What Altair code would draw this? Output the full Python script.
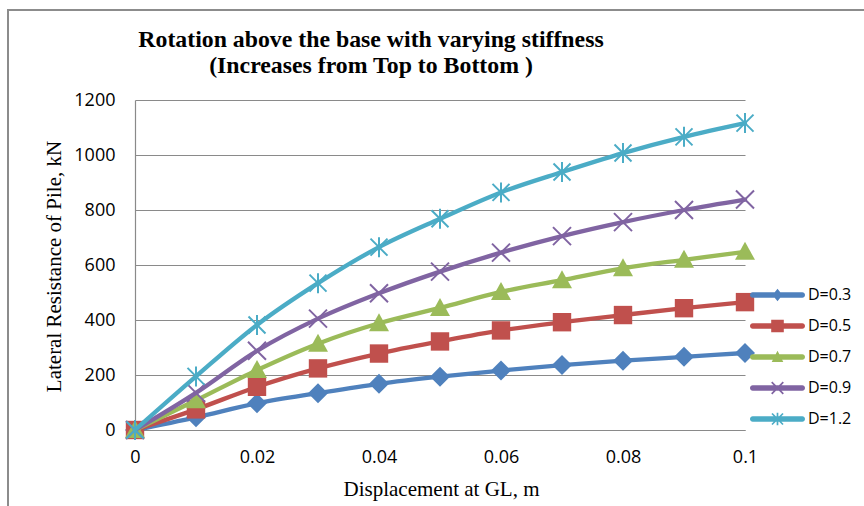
import math
import altair as alt
import pandas as pd

# ---------------- data ----------------
displacement = [0.0, 0.01, 0.02, 0.03, 0.04, 0.05, 0.06, 0.07, 0.08, 0.09, 0.1]
series_names = ["D=0.3", "D=0.5", "D=0.7", "D=0.9", "D=1.2"]
res_d03 = [0, 46, 97, 134, 168, 194, 216, 236, 252, 266, 280]
res_d05 = [0, 75, 157, 224, 278, 322, 362, 392, 418, 443, 465]
res_d07 = [0, 108, 218, 314, 388, 444, 502, 545, 588, 619, 648]
res_d09 = [0, 135, 288, 405, 497, 576, 645, 705, 756, 800, 838]
res_d12 = [0, 195, 382, 534, 665, 768, 864, 938, 1007, 1066, 1116]
series_values = [res_d03, res_d05, res_d07, res_d09, res_d12]
series_colors = ["#4F81BD", "#C0504D", "#9BBB59", "#8064A2", "#4BACC6"]
x_ticks = [0, 0.02, 0.04, 0.06, 0.08, 0.1]
y_ticks = [0, 200, 400, 600, 800, 1000, 1200]

title_lines = ["Rotation above the base with varying stiffness",
               "(Increases from Top to Bottom )"]
x_title = "Displacement at GL, m"
y_title = "Lateral Resistance of Pile, kN"

rows = []
for name, vals in zip(series_names, series_values):
    for d, v in zip(displacement, vals):
        rows.append({"disp": d, "res": v, "D": name})
df = pd.DataFrame(rows)


# ---------------- marker shapes (SVG paths, unit coords) ----------------
def poly(pts):
    n = len(pts)
    area = sum(pts[i][0] * pts[(i + 1) % n][1] - pts[(i + 1) % n][0] * pts[i][1]
               for i in range(n))
    if area > 0:
        pts = pts[::-1]
    return "M" + "L".join(f"{x:.4f},{y:.4f}" for x, y in pts) + "Z"


def bar(x1, y1, x2, y2, h):
    dx, dy = x2 - x1, y2 - y1
    L = math.hypot(dx, dy)
    nx, ny = -dy / L * h, dx / L * h
    return poly([(x1 + nx, y1 + ny), (x2 + nx, y2 + ny),
                 (x2 - nx, y2 - ny), (x1 - nx, y1 - ny)])


def stadium(half_len, h, steps=8):
    cx = half_len - h
    pts = []
    for k in range(steps + 1):
        a = -math.pi / 2 + math.pi * k / steps
        pts.append((cx + h * math.cos(a), h * math.sin(a)))
    for k in range(steps + 1):
        a = math.pi / 2 + math.pi * k / steps
        pts.append((-cx + h * math.cos(a), h * math.sin(a)))
    return poly(pts)


def diamond(w, h):
    return poly([(0, -h), (w, 0), (0, h), (-w, 0)])


def square(s):
    return poly([(-s, -s), (s, -s), (s, s), (-s, s)])


def triangle(w, top, bottom):
    return poly([(0, -top), (w, bottom), (-w, bottom)])


def xmark(s, t):
    return bar(-s, -s, s, s, t) + bar(-s, s, s, -s, t)


def star(s, v, t):
    return xmark(s, t) + bar(0, -v, 0, v, t)


# plot markers: unit = 10 px (size 400)
plot_markers = [
    diamond(1.0, 1.0),
    square(0.92),
    triangle(1.0, 1.0, 0.8),
    xmark(0.9, 0.1),
    star(0.85, 1.0, 0.1),
]
# legend symbols: unit = 23 px (size 2116), line + small marker
LU = 23.0
leg_line = stadium(27.5 / LU, 2.7 / LU)
legend_markers = [
    leg_line + diamond(4.95 / LU, 6.3 / LU),
    leg_line + square(6.3 / LU),
    leg_line + triangle(5.8 / LU, 6.3 / LU, 4.95 / LU),
    leg_line + xmark(5.8 / LU, 0.85 / LU),
    leg_line + star(5.5 / LU, 6.3 / LU, 0.85 / LU),
]

# ---------------- encodings ----------------
axis_gray = "#8a8a8a"
x_enc = alt.X(
    "disp:Q",
    scale=alt.Scale(domain=[0, 0.1], nice=False, zero=False),
    axis=alt.Axis(
        values=x_ticks, format=".2~f", grid=False, ticks=False,
        domainColor=axis_gray, domainWidth=1.2,
        labelFont="Open Sans", labelFontSize=18, labelColor="black",
        labelPadding=18, labelFlush=False,
        titleFont="Liberation Serif", titleFontSize=21, titleFontWeight="normal",
        titleColor="black", titleBaseline="alphabetic", titleY=65, titleX=306,
        titleAlign="center",
    ),
    title=x_title,
)
y_enc = alt.Y(
    "res:Q",
    scale=alt.Scale(domain=[0, 1200], nice=False),
    axis=alt.Axis(
        values=y_ticks, format="d", grid=True, gridColor=axis_gray, gridWidth=1.2,
        ticks=False, domainColor=axis_gray, domainWidth=1.2,
        labelFont="Open Sans", labelFontSize=18, labelColor="black",
        labelPadding=20, labelFlush=False,
        titleFont="Liberation Serif", titleFontSize=21, titleFontWeight="normal",
        titleColor="black", titleBaseline="alphabetic", titleX=-75, titleY=166,
        titleAngle=-90, titleAlign="center",
    ),
    title=y_title,
)
color_scale = alt.Scale(domain=series_names, range=series_colors)

base = alt.Chart(df)

border = alt.Chart(pd.DataFrame({"a": [0]})).mark_rect(
    filled=False, stroke="#8c8c8c", strokeWidth=2
).encode(
    x=alt.value(-127), x2=alt.value(780), y=alt.value(-90), y2=alt.value(460)
)

legend_def = alt.Legend(
    title=None, orient="none", legendX=619.5, legendY=172, padding=0,
    labelFont="Open Sans", labelFontSize=16, labelColor="black",
    symbolSize=2116, symbolStrokeWidth=0, symbolOpacity=1, labelOffset=7.5,
    rowPadding=0, symbolOffset=0,
)
# invisible layer that only supplies the legend (line + marker symbols)
legend_layer = base.mark_point(
    filled=True, opacity=0, size=2116, strokeWidth=0
).encode(
    x=x_enc, y=y_enc,
    color=alt.Color("D:N", scale=color_scale, legend=legend_def),
    shape=alt.Shape("D:N", scale=alt.Scale(domain=series_names, range=legend_markers),
                    legend=legend_def),
)

layers = [border, legend_layer]
for i, name in enumerate(series_names):
    sub = base.transform_filter(alt.datum.D == name)
    layers.append(
        sub.mark_line(interpolate="monotone", strokeWidth=4.3, strokeCap="round",
                      strokeJoin="round").encode(
            x=x_enc, y=y_enc,
            color=alt.Color("D:N", scale=color_scale, legend=None),
        )
    )
    layers.append(
        sub.mark_point(filled=True, opacity=1, size=400, shape=plot_markers[i],
                       strokeWidth=0).encode(
            x=x_enc, y=y_enc,
            color=alt.Color("D:N", scale=color_scale, legend=None),
        )
    )

chart = alt.layer(*layers).properties(
    width=610,
    height=330,
    title=alt.TitleParams(
        text=title_lines, font="Liberation Serif", fontSize=23.8, fontWeight="bold",
        color="black", anchor="middle", frame="group", dx=-69, dy=79,
        lineHeight=26, offset=10,
    ),
    autosize=alt.AutoSizeParams(type="none"),
    padding={"left": 135, "top": 100, "right": 119, "bottom": 76},
    background="white",
).configure_view(stroke=None)

chart.save("out.html", embed_options={"renderer": "svg", "actions": False})
